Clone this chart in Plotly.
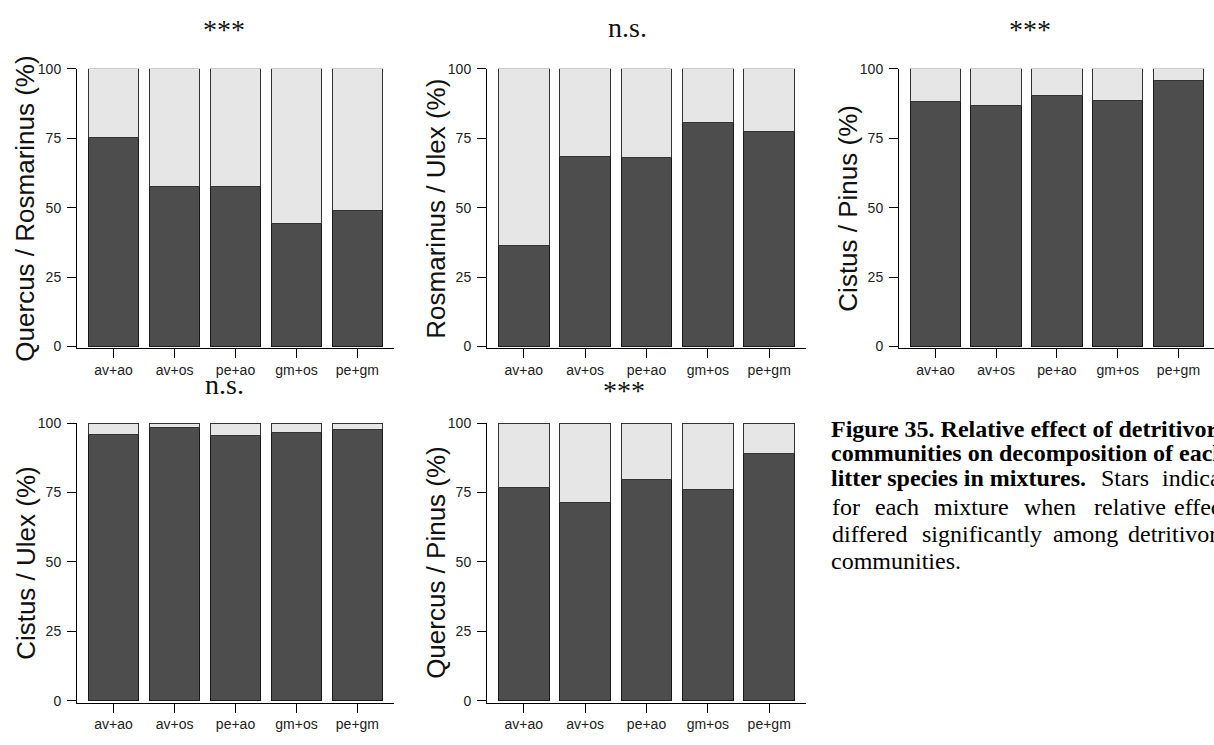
import plotly.graph_objects as go

# Mixtures (detritivore community combinations) on every x axis
categories = ["av+ao", "av+os", "pe+ao", "gm+os", "pe+gm"]

# Share (%) of mass loss attributed to the first litter species of each pair
quercus_rosmarinus = [75.2, 57.8, 57.8, 44.2, 49.1]
rosmarinus_ulex = [36.5, 68.4, 68.0, 80.5, 77.5]
cistus_pinus = [88.4, 86.8, 90.4, 88.7, 95.9]
cistus_ulex = [95.9, 98.3, 95.4, 96.7, 97.5]
quercus_pinus = [76.8, 71.3, 79.7, 76.2, 89.1]

panel_values = [quercus_rosmarinus, rosmarinus_ulex, cistus_pinus, cistus_ulex, quercus_pinus]
panel_ylabels = ["Quercus / Rosmarinus (%)", "Rosmarinus / Ulex (%)", "Cistus / Pinus (%)",
                 "Cistus / Ulex (%)", "Quercus / Pinus (%)"]
panel_signif = ["***", "n.s.", "***", "n.s.", "***"]
y_ticks = [0, 25, 50, 75, 100]

W, H = 1214, 745
DARK, LIGHT = "#4d4d4d", "#e6e6e6"

# Panel boxes in pixels: (left, right, top, bottom)
boxes = [
    (77, 394, 62, 347),
    (487, 806, 62, 347),
    (899, 1214, 62, 347),
    (77, 394, 423, 708),
    (487, 806, 423, 708),
]
x_ranges = [[-0.6, 4.6], [-0.6, 4.6], [-0.6, 4.585], [-0.6, 4.6], [-0.6, 4.6]]
ylabel_x = [25, 436, 848, 26, 436]
title_pos = [(224, 22), (627, 20), (1030, 22), (224, 384), (624, 390)]


def px(x):
    return x / W


def py(y):
    return 1 - y / H


fig = go.Figure()
layout = dict(
    width=W, height=H,
    margin=dict(l=0, r=0, t=0, b=0),
    paper_bgcolor="white", plot_bgcolor="white",
    barmode="stack", showlegend=False,
    font=dict(family="Liberation Sans, Arial, sans-serif", color="#222"),
)
annotations = []

for i, (vals, box) in enumerate(zip(panel_values, boxes)):
    n = "" if i == 0 else str(i + 1)
    xa, ya = "x" + n, "y" + n
    rest = [100 - v for v in vals]
    fig.add_trace(go.Bar(x=categories, y=vals, xaxis=xa, yaxis=ya, width=0.83,
                         marker=dict(color=DARK, line=dict(color="#1a1a1a", width=1))))
    fig.add_trace(go.Bar(x=categories, y=rest, xaxis=xa, yaxis=ya, width=0.83,
                         marker=dict(color=LIGHT, line=dict(color="#333", width=1))))
    l, r, t, b = box
    layout["xaxis" + n] = dict(
        domain=[px(l), px(r)], anchor=ya, range=x_ranges[i], type="category",
        showline=True, linecolor="black", linewidth=1,
        ticks="outside", ticklen=9, tickcolor="black", tickwidth=1,
        showgrid=False, zeroline=False, fixedrange=True,
        tickfont=dict(size=14, color="#222"),
    )
    layout["yaxis" + n] = dict(
        domain=[py(b), py(t)], anchor=xa, range=[-0.7, 100],
        tickvals=y_ticks, ticktext=[str(v) for v in y_ticks],
        showline=True, linecolor="black", linewidth=1,
        ticks="outside", ticklen=9, tickcolor="black", tickwidth=1,
        showgrid=False, zeroline=False, fixedrange=True,
        tickfont=dict(size=14, color="#222"), ticklabelstandoff=3,
    )
    # y-axis title
    annotations.append(dict(
        text=panel_ylabels[i], xref="paper", yref="paper",
        x=px(ylabel_x[i]), y=py((t + b) / 2), xanchor="center", yanchor="middle",
        textangle=-90, showarrow=False,
        font=dict(size=26, color="#111", family="Liberation Sans, Arial, sans-serif"),
    ))
    # significance label above the panel
    tx, ty = title_pos[i]
    annotations.append(dict(
        text=panel_signif[i], xref="paper", yref="paper",
        x=px(tx), y=py(ty), xanchor="center", yanchor="middle", showarrow=False,
        font=dict(size=28, color="#111", family="Liberation Serif, Times New Roman, serif"),
    ))

# Figure caption
serif = "Liberation Serif, Times New Roman, serif"
cap_size = 24
cap_lines = [
    ("<b>Figure 35. Relative effect of detritivore</b>", 829, 429),
    ("<b>communities on decomposition of each</b>", 829, 454),
    ("<b>litter species in mixtures.</b>", 829, 479),
    ("communities.", 829, 564),
]
for txt, x0, y0 in cap_lines:
    annotations.append(dict(
        text=txt, xref="paper", yref="paper", x=px(x0), y=py(y0),
        xanchor="left", yanchor="middle", showarrow=False,
        font=dict(size=cap_size, color="black", family=serif),
    ))
# Justified lines: words placed at their spread positions
cap_words = [
    (["Stars", "indicate"], [1099, 1160], 479),
    (["for", "each", "mixture", "when", "relative", "effects"], [830, 873, 932, 1022, 1092, 1172], 509),
    (["differed", "significantly", "among", "detritivore"], [830, 920, 1051, 1126], 536),
]
for words, xs, y0 in cap_words:
    for w, x0 in zip(words, xs):
        annotations.append(dict(
            text=w, xref="paper", yref="paper", x=px(x0), y=py(y0),
            xanchor="left", yanchor="middle", showarrow=False,
            font=dict(size=cap_size, color="black", family=serif),
        ))

layout["annotations"] = annotations
fig.update_layout(**layout)
fig.write_html("out.html")
